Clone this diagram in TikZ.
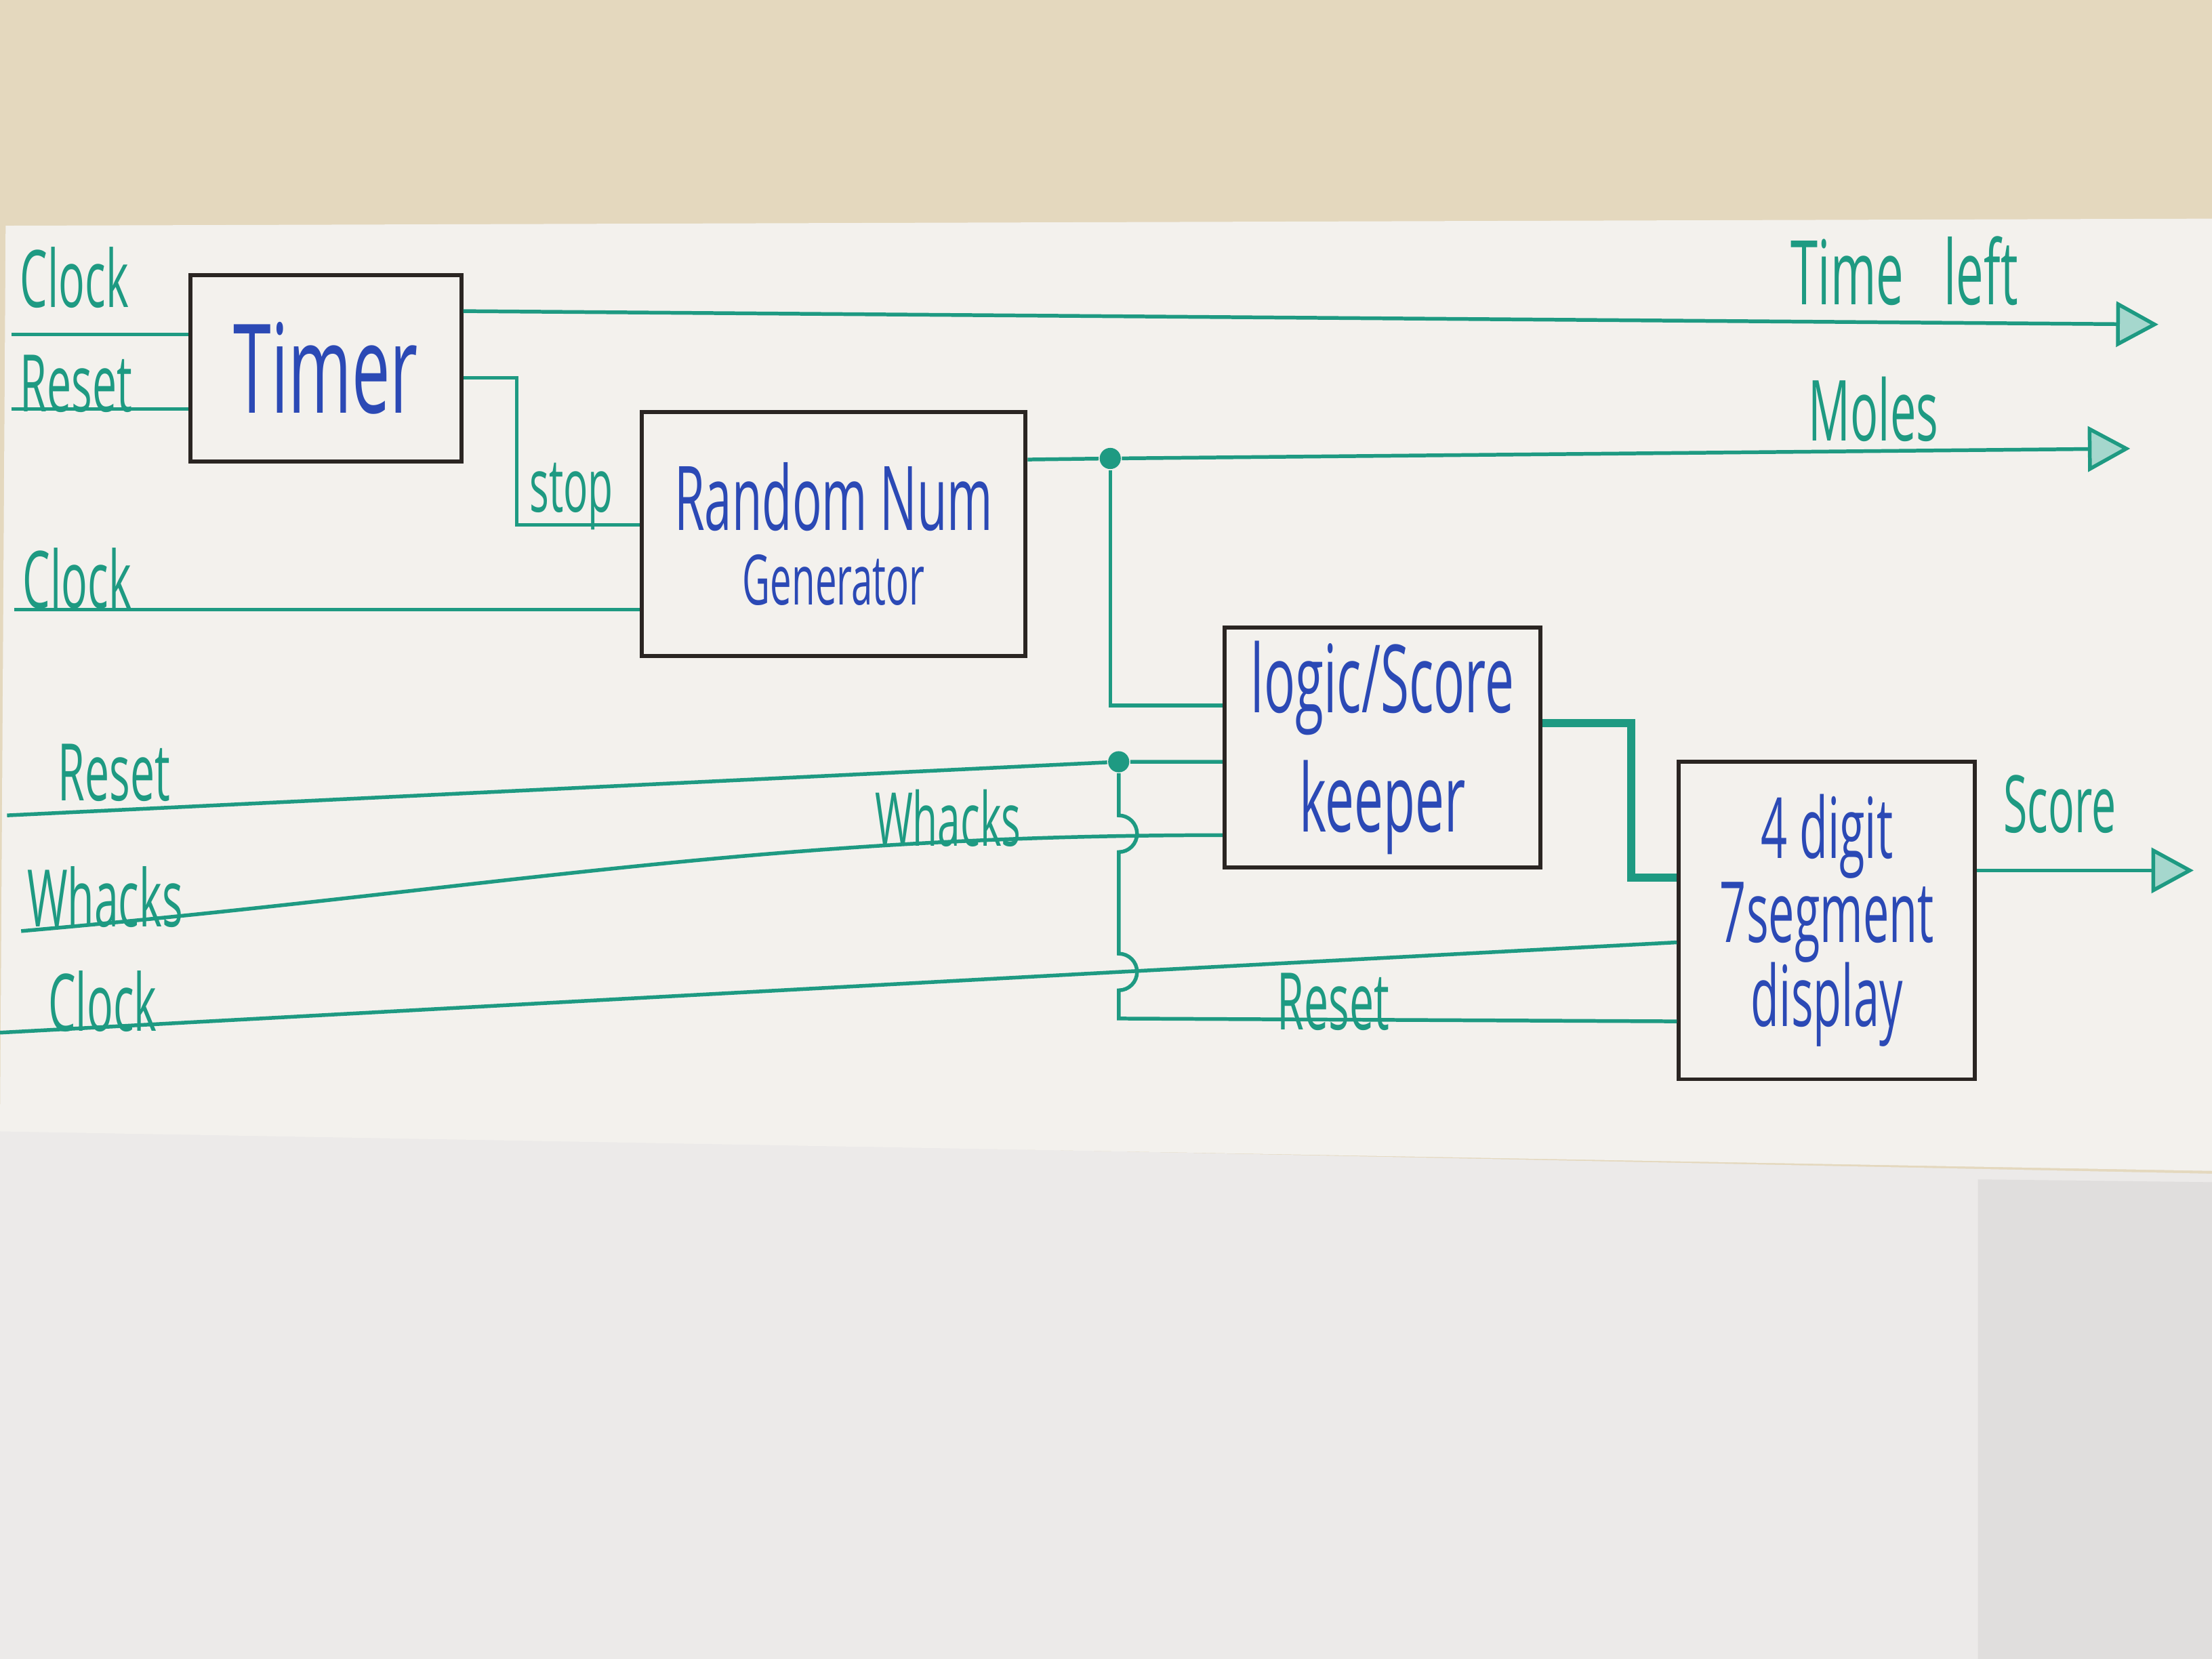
\documentclass[tikz,border=0pt]{standalone}
\usepackage{fontspec}
\newfontfamily\hand{Open Sans}[FakeStretch=0.55]
\usepackage{tikz}
\usetikzlibrary{arrows.meta,positioning,calc}
\definecolor{wmwire}{HTML}{1E9A82}
\definecolor{wmink}{HTML}{2B49B5}
\definecolor{wmbox}{HTML}{2A2522}
\definecolor{wmdesk}{HTML}{E4D8BE}
\definecolor{wmpaper}{HTML}{F3F1ED}
\definecolor{wmsheet}{HTML}{ECEAE9}

\begin{document}
\begin{tikzpicture}[
  >={Triangle[length=3mm,width=3.2mm,fill=wmwire!40]},
  block/.style={
    draw=wmbox,
    line width=0.8pt,
    text=wmink,
    align=center,
    inner sep=2pt
  },
  wire/.style={draw=wmwire,line width=0.75pt},
  bus/.style={wire,line width=1.6pt},
  outwire/.style={wire,->},
  sig/.style={text=wmwire,font=\hand\fontsize{16}{18}\selectfont,inner sep=1pt},
  junction/.style={circle,fill=wmwire,inner sep=0pt,minimum size=1.5mm}
]
% paper
\useasboundingbox (0,0) rectangle (15.68,-11.76);
\fill[wmdesk] (0,0) rectangle (15.68,-11.76);
\fill[wmsheet] (0,-8.00) -- (15.68,-8.32) -- (15.68,-11.76) -- (0,-11.76) -- cycle;
\fill[wmsheet!95!black] (14.02,-8.36) -- (15.68,-8.38) -- (15.68,-11.76) -- (14.02,-11.76) -- cycle;
\fill[wmpaper] (0.04,-1.60) -- (15.68,-1.55) -- (15.68,-8.30) -- (0,-8.02) -- cycle;

% blocks
\node[block,minimum width=27.2mm,minimum height=17.3mm] (randgen) at (5.91,-3.785)
  {{\hand\fontsize{18}{20}\selectfont Random Num}\\[3pt]{\hand\fontsize{14}{16}\selectfont Generator}};
\node[block,minimum width=19.2mm,minimum height=13.2mm,font=\hand\fontsize{25}{27}\selectfont] (timer) at (2.31,-2.61) {Timer};
\node[block,minimum width=22.4mm,minimum height=17mm,font=\hand\fontsize{19}{24}\selectfont] (scorer) at (9.80,-5.30) {logic/Score\\keeper};
\node[block,minimum width=21mm,minimum height=22.5mm,font=\hand\fontsize{17}{17}\selectfont] (display) at (12.95,-6.525) {4 digit\\7segment\\display};

% free ends
\coordinate (clkin1) at (0.08,-2.37);
\coordinate (rstin1) at (0.08,-2.90);
\coordinate (clkin2) at (0.10,-4.32);
\coordinate (rstin2) at (0.05,-5.78);
\coordinate (whkin) at (0.15,-6.60);
\coordinate (clkin3) at (0.00,-7.32);
\coordinate (timeout) at (15.30,-2.30);
\coordinate (moleout) at (15.10,-3.18);
\coordinate (scoreout) at (15.55,-6.17);
\node[junction] (moledot) at (7.87,-3.25) {};
\node[junction] (rstdot) at (7.93,-5.40) {};

% signal names
\node[sig,anchor=west] (clklbl1) at (0.10,-1.97) {Clock};
\node[sig,anchor=west] (rstlbl1) at (0.10,-2.72) {Reset};
\node[sig,anchor=west] (clklbl2) at (0.12,-4.10) {Clock};
\node[sig,anchor=west] (rstlbl2) at (0.37,-5.48) {Reset};
\node[sig,anchor=west] (whklbl1) at (0.15,-6.36) {Whacks};
\node[sig,anchor=west] (clklbl3) at (0.30,-7.10) {Clock};
\node[sig,font=\hand\fontsize{15}{17}\selectfont] (whklbl2) at (6.72,-5.80) {Whacks};
\node[sig,font=\hand\fontsize{15}{17}\selectfont] (stoplbl) at (4.05,-3.52) {stop};
\node[sig,font=\hand\fontsize{18}{20}\selectfont] (timelbl) at (13.50,-1.92) {Time\hspace{0.45em}left};
\node[sig,font=\hand\fontsize{17}{19}\selectfont] (molelbl) at (13.28,-2.90) {Moles};
\node[sig] (rstlbl3) at (9.45,-7.10) {Reset};
\node[sig] (scorelbl) at (14.60,-5.70) {Score};

% timer
\draw[wire] (clkin1) -- (clkin1 -| timer.west);
\draw[wire] (rstin1) -- (rstin1 -| timer.west);
\draw[outwire] ($(timer.north east)!0.2!(timer.south east)$) -- (timeout);
\draw[wire] ($(timer.north east)!0.55!(timer.south east)$) -- ++(0.38,0) |- (randgen.west |- 0,-3.72);

% random number generator
\draw[wire] (clkin2) -- (clkin2 -| randgen.west);
\draw[wire] ($(randgen.north east)!0.2!(randgen.south east)$) -- (moledot);
\draw[outwire] (moledot) -- (moleout);
\draw[wire] (moledot) |- (scorer.west |- 0,-5.00);

% logic / score keeper
\draw[wire] (rstin2) -- (rstdot) -- (scorer.west |- rstdot);
\draw[wire] (whkin) to[out=5,in=180] (scorer.west |- 0,-5.92);
\draw[wire] (rstdot) -- (7.93,-5.78) arc[start angle=90,end angle=-90,radius=0.13]
  -- (7.93,-6.76) arc[start angle=90,end angle=-90,radius=0.13]
  -- (7.93,-7.22) -- (display.west |- 0,-7.24);
\draw[bus] ($(scorer.north east)!0.4!(scorer.south east)$) -- ++(0.63,0) |- (display.west |- 0,-6.22);

% display
\draw[wire] (clkin3) -- (7.93,-6.89) -- (display.west |- 0,-6.68);
\draw[outwire] (display.east |- scoreout) -- (scoreout);
\end{tikzpicture}
\end{document}
